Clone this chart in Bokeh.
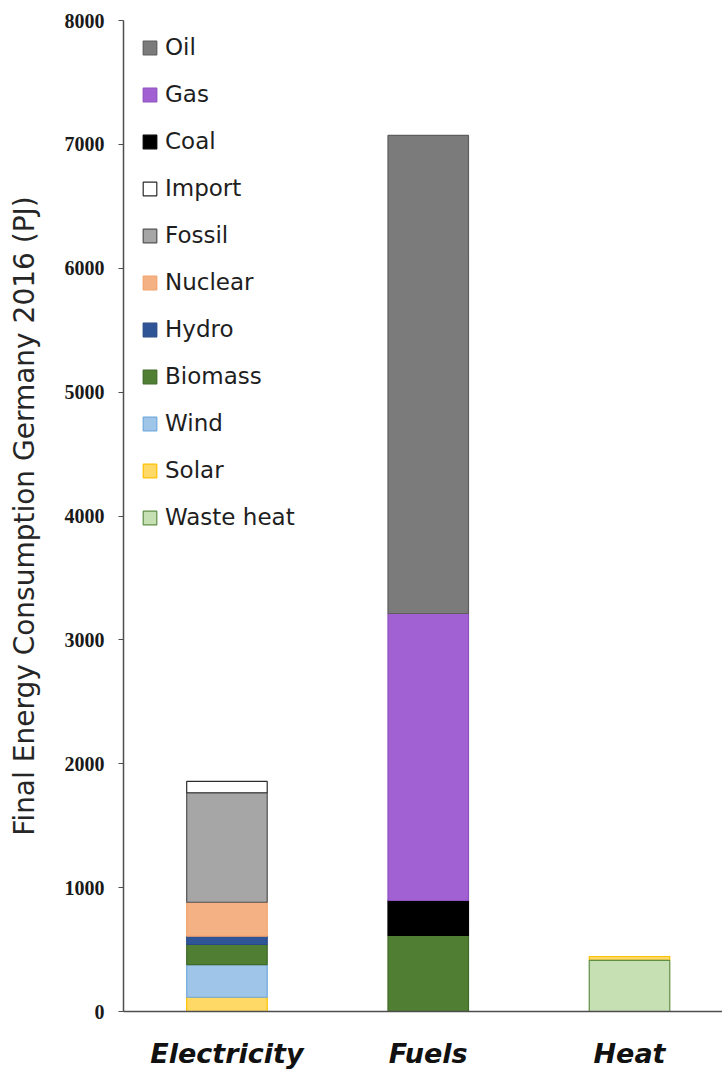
import numpy as np
from bokeh.plotting import figure
from bokeh.models import Range1d, Legend, LegendItem
from bokeh.embed import file_html
from bokeh.resources import INLINE

# ---------------- data ----------------
categories = ["Electricity", "Fuels", "Heat"]

# stacks, bottom to top (PJ)
electricity_series = ["Solar", "Wind", "Biomass", "Hydro", "Nuclear", "Fossil", "Import"]
electricity_values = [115, 264, 162, 67, 274, 884, 91]

fuels_series = ["Biomass", "Coal", "Gas", "Oil"]
fuels_values = [614, 282, 2317, 3859]

heat_series = ["Waste heat", "Solar"]
heat_values = [412, 32]

legend_order = ["Oil", "Gas", "Coal", "Import", "Fossil", "Nuclear",
                "Hydro", "Biomass", "Wind", "Solar", "Waste heat"]

y_ticks = [0, 1000, 2000, 3000, 4000, 5000, 6000, 7000, 8000]

# ---------------- styles ----------------
FILL = {
    "Oil": "#7b7b7b", "Gas": "#a261d3", "Coal": "#000000", "Import": "#ffffff",
    "Fossil": "#a6a6a6", "Nuclear": "#f4b183", "Hydro": "#2f5597",
    "Biomass": "#507f33", "Wind": "#9fc5e8", "Solar": "#ffd966",
    "Waste heat": "#c6e0b4",
}
LINE = {
    "Oil": "#5e5e5e", "Gas": "#8e50bf", "Coal": "#000000", "Import": "#2b2b2b",
    "Fossil": "#505050", "Nuclear": "#f2a46e", "Hydro": "#284a86",
    "Biomass": "#3f6a27", "Wind": "#6fa8dc", "Solar": "#ffc000",
    "Waste heat": "#5f8f45",
}

stacks = [
    (electricity_series, electricity_values),
    (fuels_series, fuels_values),
    (heat_series, heat_values),
]

segments = {}
for ci, (names, vals) in enumerate(stacks):
    vals = np.array(vals, dtype=float)
    tops = np.cumsum(vals)
    bottoms = tops - vals
    for n, b, t in zip(names, bottoms, tops):
        d = segments.setdefault(n, {"x": [], "bottom": [], "top": []})
        d["x"].append(ci)
        d["bottom"].append(b)
        d["top"].append(t)

p = figure(width=722, height=1071, output_backend="svg", toolbar_location=None,
           x_range=Range1d(-0.514, 2.462), y_range=Range1d(0, 8000),
           min_border_left=123, min_border_right=0, min_border_top=20,
           min_border_bottom=60)

p.xgrid.visible = False
p.ygrid.visible = False
p.outline_line_color = None
p.background_fill_color = "white"
p.border_fill_color = "white"

renderers = {}
for name, d in segments.items():
    r = p.vbar(x=d["x"], bottom=d["bottom"], top=d["top"], width=0.4,
               fill_color=FILL[name], line_color=LINE[name], line_width=1.2)
    renderers[name] = r

items = [LegendItem(label=n, renderers=[renderers[n]]) for n in legend_order]
legend = Legend(items=items, location=(18, 479), orientation="vertical",
                glyph_width=17, glyph_height=17, label_height=30, spacing=17,
                label_standoff=7, padding=0, margin=0,
                border_line_alpha=0, background_fill_alpha=0,
                label_text_font="DejaVu Sans", label_text_font_size="23px",
                label_text_color="#1e1e1e")
p.add_layout(legend, "center")

# y axis
yax = p.yaxis[0]
yax.ticker = y_ticks
yax.axis_label = "Final Energy Consumption Germany 2016 (PJ)"
yax.axis_label_text_font = "DejaVu Sans"
yax.axis_label_text_font_size = "28px"
yax.axis_label_text_font_style = "normal"
yax.axis_label_text_color = "#262626"
yax.axis_label_standoff = 21
yax.major_label_text_font = "Liberation Serif"
yax.major_label_text_font_style = "bold"
yax.major_label_text_font_size = "20px"
yax.major_label_text_color = "#1a1a1a"
yax.major_label_standoff = 14
yax.major_tick_in = 0
yax.major_tick_out = 5
yax.major_tick_line_color = "#4d4d4d"
yax.minor_tick_line_color = None
yax.axis_line_color = "#4d4d4d"
yax.axis_line_width = 1.5

# x axis
xax = p.xaxis[0]
xax.ticker = [0, 1, 2]
xax.major_label_overrides = {i: c for i, c in enumerate(categories)}
xax.major_label_text_font = "DejaVu Sans"
xax.major_label_text_font_style = "bold italic"
xax.major_label_text_font_size = "27px"
xax.major_label_text_color = "#111111"
xax.major_label_standoff = 26
xax.major_tick_in = 0
xax.major_tick_out = 0
xax.minor_tick_line_color = None
xax.axis_line_color = "#4d4d4d"
xax.axis_line_width = 1.5

open("out.html", "w").write(file_html(p, INLINE))
